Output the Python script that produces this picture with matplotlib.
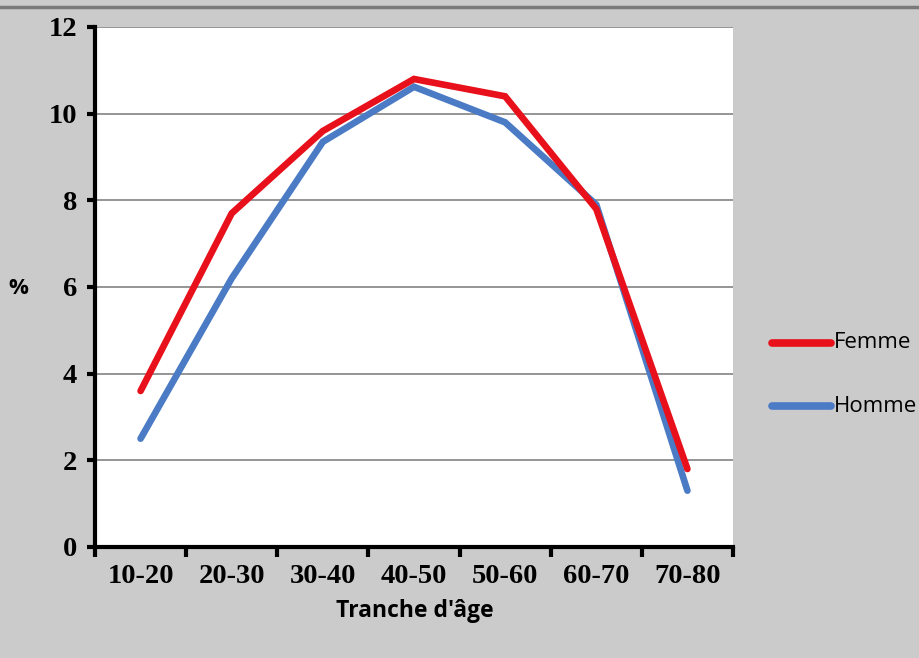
import matplotlib
matplotlib.use("Agg")
import matplotlib.pyplot as plt
import numpy as np

categories = ["10-20", "20-30", "30-40", "40-50", "50-60", "60-70", "70-80"]
femme = [3.6, 7.7, 9.6, 10.8, 10.4, 7.8, 1.8]
homme = [2.5, 6.2, 9.35, 10.62, 9.8, 7.9, 1.3]
yticks = [0, 2, 4, 6, 8, 10, 12]

bg = "#cbcbcb"
red = "#e8101a"
blue = "#4a7bc4"

fig = plt.figure(figsize=(9.19, 6.58), dpi=100, facecolor=bg)
ax = fig.add_axes([95/919, 1-547/658, (733-95)/919, (547-27)/658])
ax.set_facecolor("white")

x = np.arange(len(categories))
ax.plot(x, homme, color=blue, lw=4.8, solid_capstyle="round", solid_joinstyle="miter", label="Homme", zorder=3)
ax.plot(x, femme, color=red, lw=4.8, solid_capstyle="round", solid_joinstyle="miter", label="Femme", zorder=4)

ax.set_xlim(-0.5, len(categories) - 0.5)
ax.set_ylim(0, 12)
ax.set_yticks(yticks)
ax.set_yticklabels([str(v) for v in yticks])
for v in yticks[1:]:
    ax.axhline(v, color="#8c8c8c", lw=1.3, zorder=1)

# category ticks at boundaries, labels at centers
ax.set_xticks(np.arange(len(categories) + 1) - 0.5)
ax.set_xticklabels([])
ax.set_xticks(x, minor=True)
ax.set_xticklabels(categories, minor=True)
ax.tick_params(axis="x", which="minor", length=0, pad=12)
ax.tick_params(axis="x", which="major", length=7, width=3, direction="out")
ax.tick_params(axis="y", length=6, width=3, direction="out", pad=7)

for lab in ax.get_xticklabels(minor=True) + ax.get_yticklabels():
    lab.set_fontfamily("Liberation Serif")
    lab.set_fontweight("bold")
    lab.set_fontsize(20.5)

for s in ["top", "right"]:
    ax.spines[s].set_visible(False)
for s in ["left", "bottom"]:
    ax.spines[s].set_linewidth(3)
    ax.spines[s].set_capstyle("projecting")

fig.text(18/919, 1-288/658, "%", ha="center", va="center",
         fontsize=16, fontweight="bold", family="Open Sans")
fig.text(415/919, 1-611/658, "Tranche d'âge", ha="center", va="center",
         fontsize=16.5, fontweight="bold", family="Open Sans")

# legend drawn in figure coords
for yy, col, txt in [(343, red, "Femme"), (406, blue, "Homme")]:
    fig.add_artist(plt.Line2D([772/919, 831/919], [1-yy/658, 1-yy/658],
                              color=col, lw=5.5, solid_capstyle="round"))
    fig.text(834/919, 1-yy/658, txt, ha="left", va="center",
             fontsize=16, family="Open Sans")

# dark line at top of the image
fig.add_artist(plt.Line2D([0, 1], [1-7/658, 1-7/658], color="#7a7a7a", lw=2.5))

fig.savefig("out.png", dpi=100, facecolor=bg)
